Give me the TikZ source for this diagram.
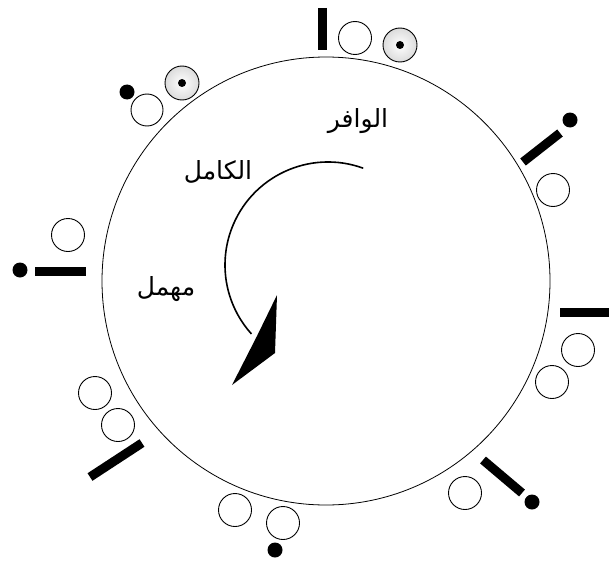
\documentclass[tikz,border=0pt]{standalone}
\usepackage{fontspec}
\newfontfamily\arabicfont[Script=Arabic]{DejaVu Sans}
\TeXXeTstate=1
\begin{document}
\begin{tikzpicture}[x=1pt,y=-1pt,
  ring/.style={draw=black, line width=0.9pt, fill=white},
  dotring/.style={draw=black, line width=0.9pt, inner color=white, outer color=gray!28},
  barline/.style={line width=9pt},
  blackdot/.style={fill=black},
  lbl/.style={font=\arabicfont\fontsize{25}{30}\selectfont, inner sep=0pt}]
\useasboundingbox (0,0) rectangle (609,567);
% main circle
\draw[line width=0.8pt] (326,281) circle (224);
% top group
\draw[barline] (322,8) -- (322,50);
\draw[ring] (355,38) circle (16.5);
\draw[dotring] (400,45) circle (17);
\fill[blackdot] (400,45) circle (4);
% upper-left group
\fill[blackdot] (127,92) circle (7.5);
\draw[ring] (147,110) circle (16);
\draw[dotring] (182,83) circle (17);
\fill[blackdot] (182,83) circle (4);
% left group
\draw[ring] (68,235) circle (16.5);
\fill[blackdot] (20,270) circle (7.5);
\draw[barline] (35,271) -- (86,271);
% right upper group
\fill[blackdot] (570,120) circle (7.5);
\draw[barline] (523,162) -- (560,133);
\draw[ring] (553,190) circle (16.5);
% right group
\draw[barline] (560,312) -- (609,312);
\draw[ring] (578,350) circle (16.5);
\draw[ring] (552,382) circle (16.5);
% lower-left group
\draw[ring] (95,393) circle (16.5);
\draw[ring] (118,425) circle (16.5);
\draw[barline] (90,477) -- (142,443);
% bottom group
\draw[ring] (235,510) circle (16.5);
\draw[ring] (283,523) circle (16.5);
\fill[blackdot] (275,550) circle (7.5);
% bottom-right group
\draw[ring] (465,493) circle (16.5);
\draw[barline] (483,460) -- (522,493);
\fill[blackdot] (532,502) circle (7.5);
% rotation arrow
\draw[line width=1.6pt] (328,265) ++(-70:103) arc[start angle=-70, end angle=-222, radius=103];
\fill (277,295) -- (275,353) -- (232,385) -- (257,336) -- cycle;
% labels
\node[lbl] (wafir) at (358,121) {\beginR الوافر\endR};
\node[lbl] (kamil) at (218,172) {\beginR الكامل\endR};
\node[lbl] (muhmal) at (166,289) {\beginR مهمل\endR};
\end{tikzpicture}
\end{document}
